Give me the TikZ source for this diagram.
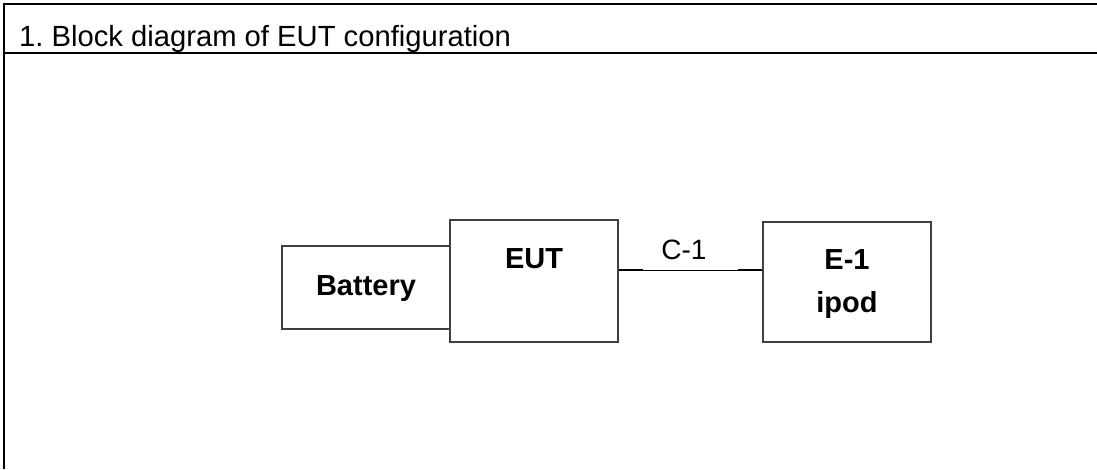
\documentclass[tikz,border=0pt]{standalone}
\usepackage{fontspec}
\setmainfont{Liberation Sans}
\definecolor{boxgray}{RGB}{64,64,64}
\begin{document}
\begin{tikzpicture}[x=1pt,y=-1pt,
  frameline/.style={line width=2pt,black},
  blockbox/.style={draw=boxgray,line width=1.3pt,rectangle,inner sep=0pt,fill=white},
  boldlbl/.style={inner sep=0pt,anchor=base,font=\fontsize{29}{34}\selectfont\bfseries},
  reglbl/.style={inner sep=0pt,anchor=base,font=\fontsize{28}{33}\selectfont},
  titlelbl/.style={inner sep=0pt,anchor=base west,font=\fontsize{29.2}{34}\selectfont\frenchspacing},
  cable/.style={line width=1pt,black},
  cablestub/.style={line width=2pt,black}]
\useasboundingbox (0,0) rectangle (1097,469);
% frame
\draw[frameline] (1097,4) -- (4,4) -- (4,469);
\draw[frameline] (4,52.5) -- (1097,52.5);
\node[titlelbl] (title) at (19,46) {1.\ Block diagram of EUT configuration};
% boxes
\node[blockbox,minimum width=168pt,minimum height=83pt] (battery) at (366,287.5) {};
\node[blockbox,minimum width=168pt,minimum height=122pt] (eut) at (534,281) {};
\node[blockbox,minimum width=168pt,minimum height=120pt] (e1) at (847,282) {};
\node[boldlbl] (batterylbl) at (366,295) {Battery};
\node[boldlbl] (eutlbl) at (534,268) {EUT};
\node[boldlbl] (e1lbl) at (847,269) {E-1};
\node[boldlbl] (ipodlbl) at (847,312) {ipod};
% cable
\draw[cable] (eut.east |- 0,270) -- (e1.west |- 0,270);
\draw[cablestub] (eut.east |- 0,270) -- ++(24,0);
\draw[cablestub] (e1.west |- 0,270) -- ++(-24,0);
\node[reglbl] (c1lbl) at (684,259) {C-1};
\end{tikzpicture}
\end{document}
